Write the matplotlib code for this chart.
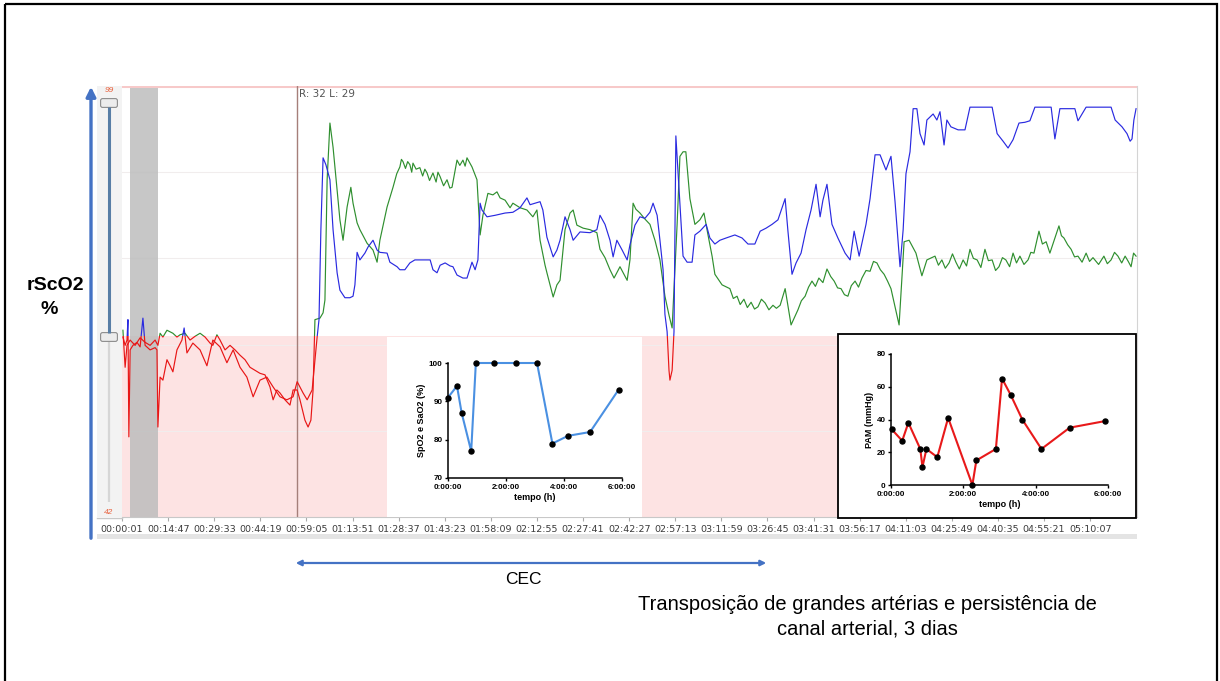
import matplotlib
matplotlib.use('Agg')
import matplotlib.pyplot as plt
from matplotlib.patches import Rectangle, FancyBboxPatch, FancyArrowPatch

plt.rcParams['font.family'] = ['Liberation Sans', 'DejaVu Sans']

# cerebral oximetry, elapsed minutes and rSO2 (%)
blue_t = [0.3, 1.0, 1.6, 1.9, 2.2, 2.6, 3.5, 4.8, 5.8, 6.7,
          7.4, 9.0, 10.6, 11.2, 11.5, 12.2, 13.1, 14.4, 15.4, 16.3,
          17.6, 19.2, 19.9, 20.8, 22.7, 25.0, 27.2, 29.1, 31.4, 33.6,
          35.6, 37.8, 40.0, 42.0, 44.2, 46.4, 48.4, 50.6, 52.8, 54.8,
          56.1, 58.0, 59.3, 60.9, 61.8, 62.5, 63.1, 63.7, 64.4, 65.3,
          66.6, 67.6, 68.9, 69.8, 71.4, 73.0, 74.0, 74.6, 75.3, 76.2,
          77.8, 78.8, 80.4, 81.7, 82.6, 84.9, 85.8, 88.1, 89.0, 90.6,
          92.2, 93.8, 95.4, 98.7, 99.6, 100.9, 101.9, 103.5, 105.1, 106.0,
          107.3, 109.2, 110.5, 112.1, 113.1, 114.0, 114.7, 115.3, 116.9, 119.5,
          122.7, 125.2, 127.5, 129.7, 130.7, 132.3, 133.9, 134.8, 136.1, 138.1,
          139.3, 140.3, 141.9, 143.5, 144.5, 146.7, 149.9, 152.1, 153.1, 154.7,
          156.3, 157.3, 158.5, 160.2, 161.8, 162.7, 164.3, 165.9, 167.5, 169.1,
          170.1, 171.4, 172.3, 173.3, 173.9, 174.6, 175.2, 175.5, 176.2, 176.8,
          177.4, 178.4, 179.7, 181.0, 182.6, 183.5, 185.1, 187.1, 188.3, 189.9,
          191.5, 193.5, 196.3, 198.6, 200.5, 202.7, 204.4, 206.3, 208.2, 210.1,
          212.4, 213.3, 214.6, 215.9, 217.5, 219.1, 220.7, 222.3, 223.6, 224.5,
          225.8, 227.4, 229.3, 231.6, 233.2, 234.5, 236.1, 238.3, 239.6, 241.2,
          242.8, 244.7, 246.3, 247.6, 249.2, 250.2, 251.1, 252.4, 253.4, 254.6,
          255.6, 256.9, 257.8, 259.8, 261.0, 262.0, 263.3, 264.2, 265.5, 267.8,
          270.0, 271.6, 274.8, 278.7, 280.3, 282.2, 283.8, 285.4, 287.3, 289.2,
          290.8, 292.4, 295.6, 297.6, 298.8, 300.4, 303.0, 305.2, 306.2, 308.8,
          313.3, 316.8, 318.1, 320.3, 321.9, 322.9, 323.5, 324.1, 324.8]
blue_v = [65.8, 64.7, 65.4, 68.1, 52.6, 64.1, 64.7, 65.1, 64.5, 68.3,
          64.7, 64.1, 64.4, 64.1, 53.9, 60.5, 60.1, 62.8, 62.0, 61.2,
          64.1, 65.4, 67.0, 63.7, 65.0, 64.1, 62.0, 65.4, 64.5, 62.4,
          64.1, 61.8, 60.5, 57.9, 60.1, 60.5, 59.2, 57.9, 57.5, 57.9,
          59.9, 58.4, 57.5, 58.8, 62.8, 65.8, 68.1, 80.0, 89.5, 88.6,
          86.6, 80.0, 74.3, 72.0, 71.0, 71.0, 71.2, 72.7, 77.0, 76.0,
          76.9, 77.7, 78.6, 77.3, 77.0, 76.9, 75.7, 75.1, 74.7, 74.7,
          75.6, 76.0, 76.0, 76.0, 74.7, 74.3, 75.3, 75.6, 75.2, 75.1,
          74.0, 73.6, 73.6, 75.7, 74.7, 76.0, 83.5, 82.6, 81.7, 81.9,
          82.2, 82.3, 82.9, 84.2, 83.3, 83.5, 83.7, 82.6, 79.0, 76.4,
          77.3, 78.6, 81.7, 80.0, 78.6, 79.7, 79.6, 80.0, 81.9, 80.7,
          78.6, 76.4, 78.6, 77.3, 76.0, 78.0, 80.6, 81.7, 81.5, 82.3,
          83.5, 81.9, 78.6, 74.7, 68.8, 66.5, 61.4, 60.1, 61.4, 66.5,
          92.4, 85.5, 76.5, 75.7, 75.7, 79.3, 79.8, 80.7, 78.9, 78.1,
          78.6, 78.9, 79.3, 78.9, 78.1, 78.1, 79.8, 80.2, 80.7, 81.3,
          84.1, 79.8, 74.1, 75.6, 76.9, 80.0, 82.6, 86.0, 81.7, 83.9,
          86.0, 80.7, 78.9, 76.9, 76.0, 79.8, 76.5, 80.7, 84.1, 89.9,
          89.9, 87.9, 89.7, 83.7, 75.1, 80.0, 87.4, 90.3, 96.0, 96.0,
          92.7, 91.2, 94.5, 95.3, 94.5, 95.6, 91.2, 94.5, 93.6, 93.2,
          93.2, 96.2, 96.2, 96.2, 92.7, 91.7, 90.8, 91.9, 94.1, 94.2,
          94.4, 96.2, 96.2, 96.2, 92.0, 96.0, 96.0, 96.0, 94.4, 96.2,
          96.2, 96.2, 94.5, 93.6, 92.7, 91.7, 92.0, 94.5, 96.0]

green_t = [0.3, 1.0, 1.6, 2.6, 4.2, 5.8, 7.4, 9.0, 10.6, 11.5,
           12.2, 13.1, 14.4, 16.3, 17.6, 18.6, 20.2, 21.8, 23.4, 25.0,
           26.6, 28.2, 29.1, 30.4, 31.4, 33.0, 34.6, 36.2, 37.8, 39.4,
           41.0, 42.6, 44.2, 45.8, 47.4, 48.4, 49.6, 50.6, 52.2, 53.8,
           54.8, 56.1, 57.0, 58.6, 59.6, 60.5, 61.2, 61.8, 63.4, 64.4,
           65.0, 65.7, 66.6, 67.6, 68.9, 69.8, 70.8, 72.1, 73.3, 74.0,
           75.3, 76.2, 78.5, 80.4, 81.7, 82.6, 84.9, 86.8, 88.0, 89.0,
           89.5, 90.0, 90.8, 91.5, 92.2, 92.8, 93.2, 94.2, 95.4, 96.3,
           97.0, 97.7, 98.5, 99.6, 100.6, 101.2, 101.9, 103.0, 104.1, 105.0,
           105.7, 106.7, 107.3, 108.2, 109.2, 109.9, 110.5, 111.3, 112.1, 113.7,
           114.7, 115.6, 117.2, 118.8, 120.1, 121.1,
           122.7, 124.3, 125.2, 127.5, 129.7, 131.6, 132.9, 133.9, 135.5, 136.1,
           138.1, 139.3, 140.3, 141.9, 143.5, 144.5, 145.7, 147.7, 149.9, 152.1,
           153.1, 154.7, 156.3, 157.6, 159.5, 161.8, 162.7, 163.7, 164.6, 165.9,
           167.5, 169.1, 170.7, 172.3, 173.9, 175.2, 176.2, 177.1, 177.8, 178.7,
           179.7, 180.6, 181.9, 183.5, 185.1, 186.4, 187.7, 189.0, 189.9, 192.2,
           194.7, 195.8, 197.0, 198.0, 199.2, 200.3, 201.5, 202.6, 203.7, 204.8,
           206.0, 207.2, 208.5, 209.6, 210.8, 212.4, 214.3,
           216.5, 217.6, 218.8, 219.9, 221.0, 222.1, 223.2, 224.5, 225.8, 227.0,
           228.1, 229.2, 230.3, 231.4, 232.5, 233.6, 234.8, 235.9, 237.0, 238.3,
           239.6, 240.7, 241.8, 242.9, 244.1, 245.2, 246.3, 248.9,
           250.5, 252.1, 254.3, 256.2, 257.8,
           260.4, 261.5, 262.6, 263.7, 264.9, 266.0, 267.1, 268.2, 269.4, 270.5,
           271.6, 272.7, 273.9, 275.1, 276.4, 277.5, 278.7, 279.8, 280.9, 282.0,
           283.1, 284.3, 285.4, 286.5, 287.6, 288.9, 290.2, 291.1, 292.1, 293.7,
           294.8, 296.0, 297.2, 298.8, 300.1, 300.9, 301.7, 302.9, 304.0, 305.1,
           306.2, 307.5, 308.8, 309.9, 311.0, 312.8, 314.5, 315.6, 316.8, 317.9,
           319.0, 320.2, 321.3, 322.3, 323.2, 324.0, 324.8]
green_v = [66.7, 61.8, 64.7, 65.4, 64.7, 65.7, 65.1, 64.7, 65.4, 64.7,
           66.3, 65.8, 66.7, 66.3, 65.8, 66.1, 66.3, 65.4, 65.9, 66.3,
           65.8, 65.0, 64.7, 66.1, 65.4, 64.1, 64.7, 64.1, 63.4, 62.8,
           61.8, 61.4, 61.0, 60.8, 59.2, 57.5, 58.8, 58.4, 57.5, 56.8,
           58.8, 58.8, 57.5, 54.8, 53.9, 54.8, 58.8, 68.1, 68.3, 69.0,
           70.7, 86.6, 94.1, 90.9, 85.2, 81.3, 78.6, 83.0, 85.6, 83.5,
           80.9, 80.0, 78.2, 77.3, 75.7, 78.6, 83.0, 85.6, 87.4, 88.3,
           89.3, 89.0, 88.1, 89.0, 88.6, 87.6, 88.8, 88.0, 88.2, 87.1,
           88.0, 87.5, 86.5, 87.5, 86.3, 87.6, 87.0, 85.8, 86.6, 85.5,
           85.6, 87.9, 89.2, 88.5, 89.2, 88.4, 89.5, 88.9, 88.3, 86.6,
           79.3, 81.9, 84.8, 84.6, 85.0, 84.2,
           83.9, 82.9, 83.5, 82.9, 82.6, 81.7, 82.6, 78.6, 75.3, 74.3,
           71.1, 72.7, 73.3, 80.0, 82.2, 82.6, 80.6, 80.2, 80.0, 79.6,
           77.4, 76.3, 74.7, 73.6, 75.1, 73.3, 76.0, 83.5, 82.7, 82.2,
           81.4, 80.7, 78.6, 76.0, 71.2, 68.7, 67.0, 74.7, 80.7, 89.7,
           90.3, 90.3, 84.1, 80.7, 81.3, 82.2, 79.3, 76.5, 74.1, 72.7,
           72.2, 70.9, 71.2, 70.1, 70.8, 69.7, 70.4, 69.5, 69.8, 70.8,
           70.3, 69.4, 70.0, 69.6, 70.0, 72.2, 67.4,
           69.4, 70.6, 71.2, 72.4, 73.2, 72.5, 73.6, 73.0, 74.8, 73.8,
           73.2, 72.3, 72.2, 71.4, 71.2, 72.6, 73.2, 72.4, 73.6, 74.6,
           74.5, 75.8, 75.6, 74.7, 74.1, 73.2, 72.2, 67.4,
           78.4, 78.6, 76.9, 73.9, 76.0,
           76.5, 75.3, 76.0, 74.9, 75.6, 76.8, 75.7, 74.8, 76.0, 75.2,
           77.4, 76.2, 76.0, 75.0, 77.4, 75.9, 76.0, 74.6, 75.1, 76.3,
           76.0, 75.1, 76.9, 75.6, 76.5, 75.4, 76.0, 77.0, 76.9, 79.8,
           78.1, 78.4, 76.9, 78.9, 80.5, 79.2, 78.9, 78.0, 77.4, 76.4,
           76.5, 75.7, 76.9, 75.8, 76.3, 75.4, 76.5, 75.5, 76.0, 77.0,
           76.5, 75.6, 76.5, 75.8, 75.1, 76.9, 76.5]

threshold = 66
y_lo, y_hi = 42, 99
t_end = 325.1
gray_band = (2.6, 11.5)
cursor_t = 56.1
cursor_text = 'R: 32 L: 29'

tick_labels = ['00:00:01', '00:14:47', '00:29:33', '00:44:19', '00:59:05', '01:13:51',
               '01:28:37', '01:43:23', '01:58:09', '02:12:55', '02:27:41', '02:42:27',
               '02:57:13', '03:11:59', '03:26:45', '03:41:31', '03:56:17', '04:11:03',
               '04:25:49', '04:40:35', '04:55:21', '05:10:07']

# SpO2 / SaO2 and mean arterial pressure, time in hours
spo2_h = [0, 0.31, 0.47, 0.80, 0.96, 1.57, 2.35, 3.07, 3.60, 4.14, 4.90, 5.88]
spo2 = [91, 94, 87, 77, 100, 100, 100, 100, 79, 81, 82, 93]
pam_h = [0.02, 0.31, 0.48, 0.81, 0.87, 0.98, 1.28, 1.58, 2.25, 2.36, 2.90,
         3.07, 3.31, 3.63, 4.16, 4.94, 5.91]
pam = [34, 27, 38, 22, 11, 22, 17, 41, 0, 15, 22, 65, 55, 40, 22, 35, 39]
inset_ticks = [0, 2, 4, 6]
inset_ticklabels = ['0:00:00', '2:00:00', '4:00:00', '6:00:00']

W, H = 1220, 681
fig = plt.figure(figsize=(W / 100, H / 100), dpi=100)


def box(x0, y0, x1, y1):
    return [x0 / W, 1 - y1 / H, (x1 - x0) / W, (y1 - y0) / H]


# main oximetry panel
ax = fig.add_axes(box(122, 86, 1137, 517), zorder=1)
ax.set_xlim(0, t_end)
ax.set_ylim(y_lo, y_hi)
ax.axhspan(y_lo, threshold, color='#fde3e3', zorder=0, lw=0)
ax.axvspan(*gray_band, color='#bdbdbd', alpha=0.85, zorder=0.5, lw=0)
step = (y_hi - y_lo) / 5
for k in range(1, 5):
    ax.axhline(y_lo + k * step, color='#f1eded', lw=0.8, zorder=0.3)
ax.axhline(y_hi, color='#f7c9c9', lw=2.2, zorder=0.6)
ax.axvline(cursor_t, color='#a57f7a', lw=1, zorder=0.7)
ax.text(cursor_t + 0.6, y_hi - 0.4, cursor_text, va='top', ha='left',
        fontsize=7.5, color='#555555', family='DejaVu Sans')

for t, v, col in [(green_t, green_v, '#2f8f2f'), (blue_t, blue_v, '#2a2ae0')]:
    above, = ax.plot(t, v, color=col, lw=0.85, zorder=2)
    above.set_clip_path(Rectangle((-10, threshold), 400, 100, transform=ax.transData))
    below, = ax.plot(t, v, color='#e81616', lw=0.85, zorder=2)
    below.set_clip_path(Rectangle((-10, 0), 400, threshold, transform=ax.transData))

tick_pos = []
for lab in tick_labels:
    h, m, s = (int(p) for p in lab.split(':'))
    tick_pos.append(h * 60 + m + s / 60)
ax.set_xticks(tick_pos)
ax.set_xticklabels(tick_labels, fontsize=6.8, color='#3a3a3a', family='DejaVu Sans')
ax.tick_params(axis='x', length=3, color='#aaaaaa', pad=2.5)
ax.set_yticks([])
for side in ['top', 'left']:
    ax.spines[side].set_visible(False)
ax.spines['right'].set_color('#d4d4d4')
ax.spines['bottom'].set_color('#c8c8c8')

# page decorations in pixel coordinates
deco = fig.add_axes([0, 0, 1, 1], zorder=2)
deco.set_xlim(0, W)
deco.set_ylim(H, 0)
deco.axis('off')
deco.patch.set_alpha(0)

deco.add_patch(Rectangle((5, 4), 1212, 700, fill=False, ec='black', lw=1.6))
deco.add_patch(Rectangle((97, 86), 25, 431, color='#f3f3f3', lw=0))
deco.add_patch(Rectangle((97, 534), 1040, 5, color='#e4e4e4', lw=0))
deco.plot([97, 122], [518, 518], color='#c8c8c8', lw=1)

deco.add_patch(FancyArrowPatch((91, 541), (91, 84), arrowstyle='-|>', mutation_scale=14,
                               color='#4472c4', lw=2.4))
deco.plot([109, 109], [107, 333], color='#587ea6', lw=2.2, solid_capstyle='butt')
deco.plot([109, 109], [342, 502], color='#d6d6d6', lw=1.6, solid_capstyle='butt')
for yh in [99, 333]:
    deco.add_patch(FancyBboxPatch((101, yh), 16, 8, boxstyle='round,pad=0.4,rounding_size=2',
                                  fc='#ececec', ec='#8c8c8c', lw=0.8))
deco.text(109, 91, '99', ha='center', va='center', fontsize=6, style='italic', color='#e8603c')
deco.text(109, 512, '42', ha='center', va='center', fontsize=6, style='italic', color='#e8603c')

deco.text(55, 285, 'rScO2', ha='center', va='center', fontsize=14, fontweight='bold')
deco.text(49, 310, '%', ha='center', va='center', fontsize=14, fontweight='bold')

deco.add_patch(FancyArrowPatch((293, 563), (769, 563), arrowstyle='<|-|>', mutation_scale=8,
                               color='#4472c4', lw=1.6))
deco.text(523, 579, 'CEC', ha='center', va='center', fontsize=12.5)
deco.text(867, 605, 'Transposição de grandes artérias e persistência de',
          ha='center', va='center', fontsize=14.5)
deco.text(867, 629, 'canal arterial, 3 dias', ha='center', va='center', fontsize=14.5)

# white panels behind the two small graphs
deco.add_patch(Rectangle((387, 337), 255, 180, color='white', lw=0))
deco.add_patch(Rectangle((838, 334), 298, 184, fc='white', ec='black', lw=1.3))


def style_inset(a, ylabel):
    a.patch.set_alpha(0)
    for side in ['top', 'right']:
        a.spines[side].set_visible(False)
    for side in ['left', 'bottom']:
        a.spines[side].set_linewidth(1.1)
    a.set_xlim(0, 6)
    a.set_xticks(inset_ticks)
    a.set_xticklabels(inset_ticklabels)
    a.tick_params(length=2.5, width=1, labelsize=5.8, pad=1.5)
    for lab in a.get_xticklabels() + a.get_yticklabels():
        lab.set_fontweight('bold')
    a.set_xlabel('tempo (h)', fontsize=6.5, fontweight='bold', labelpad=1.5)
    a.set_ylabel(ylabel, fontsize=6.5, fontweight='bold', labelpad=2)


a1 = fig.add_axes(box(448, 363, 622, 478), zorder=3)
a1.plot(spo2_h, spo2, color='#4a90e2', lw=1.5, marker='o', ms=3.6,
        mfc='black', mec='black', clip_on=False)
a1.set_ylim(70, 100)
a1.set_yticks([70, 80, 90, 100])
style_inset(a1, 'SpO2 e SaO2 (%)')

a2 = fig.add_axes(box(891, 354, 1108, 485), zorder=3)
a2.plot(pam_h, pam, color='#e8191a', lw=1.5, marker='o', ms=3.6,
        mfc='black', mec='black', clip_on=False)
a2.set_ylim(0, 80)
a2.set_yticks([0, 20, 40, 60, 80])
style_inset(a2, 'PAM (mmHg)')

fig.savefig('out.png', dpi=100)
